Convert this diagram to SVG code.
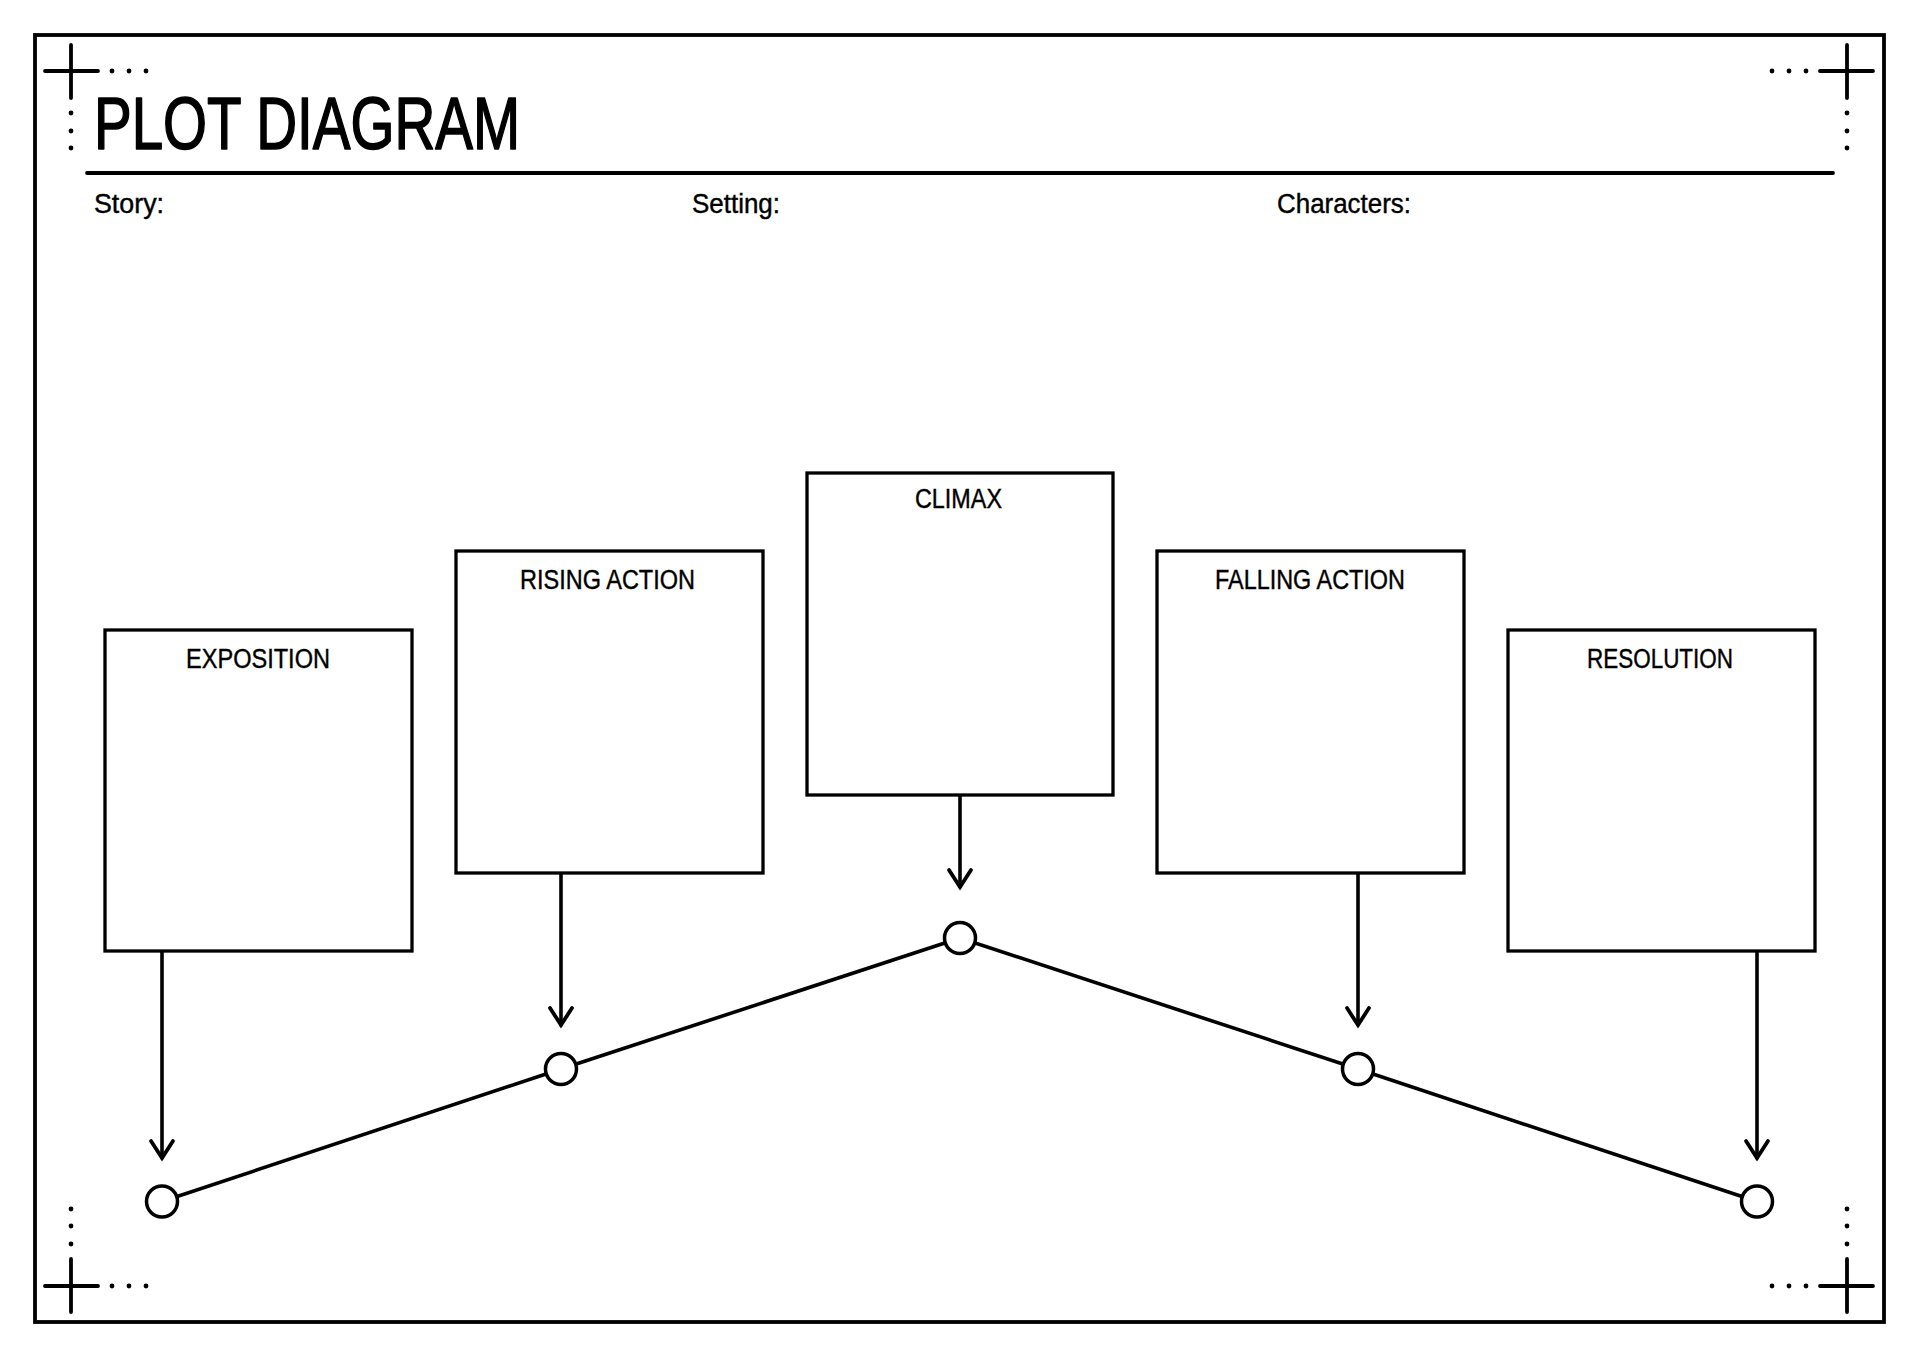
<svg xmlns="http://www.w3.org/2000/svg" xmlns:xlink="http://www.w3.org/1999/xlink" width="1920" height="1358" viewBox="0 0 1920 1358">
<style>
.ln{fill:none;stroke:#000;stroke-width:3.6;stroke-linecap:round;stroke-linejoin:round}
.box{fill:#fff;stroke:#000;stroke-width:3.3}
.pt{fill:#fff;stroke:#000;stroke-width:3.5}
.lbl{font-family:"Liberation Sans","DejaVu Sans",sans-serif;font-size:27px;fill:#000;stroke:#000;stroke-width:0.4}
.title{font-family:"Liberation Sans","DejaVu Sans",sans-serif;font-size:75px;fill:#000;stroke:#000;stroke-width:1.6;stroke-linejoin:round}
.dot{fill:#000}
</style>
<defs>
<marker id="ah" markerUnits="userSpaceOnUse" markerWidth="40" markerHeight="40" refX="0" refY="0" orient="auto" overflow="visible">
<path d="M-17,-11 L0,0 L-17,11" fill="none" stroke="#000" stroke-width="3.8" stroke-linecap="round" stroke-linejoin="miter"/>
</marker>
<g id="corner">
<path class="ln" d="M45,71 H98 M71,45 V98" style="stroke-width:3.8"/>
<circle class="dot" cx="112" cy="71" r="2.4"/>
<circle class="dot" cx="129" cy="71" r="2.4"/>
<circle class="dot" cx="146" cy="71" r="2.4"/>
<circle class="dot" cx="71" cy="113" r="2.4"/>
<circle class="dot" cx="71" cy="131" r="2.4"/>
<circle class="dot" cx="71" cy="148" r="2.4"/>
</g>
</defs>
<rect width="1920" height="1358" fill="#fff"/>
<g id="frame">
<rect x="35" y="35" width="1849" height="1287" fill="none" stroke="#000" stroke-width="3.8"/>
<use xlink:href="#corner"/>
<use xlink:href="#corner" transform="translate(1918,0) scale(-1,1)"/>
<use xlink:href="#corner" transform="translate(0,1357) scale(1,-1)"/>
<use xlink:href="#corner" transform="translate(1918,1357) scale(-1,-1)"/>
</g>
<g id="header">
<text class="title" x="94" y="149" textLength="426" lengthAdjust="spacingAndGlyphs">PLOT DIAGRAM</text>
<line class="ln" x1="87" y1="173" x2="1833" y2="173" style="stroke-width:3.8"/>
<text class="lbl" x="94" y="213" textLength="70" lengthAdjust="spacingAndGlyphs">Story:</text>
<text class="lbl" x="692" y="213" textLength="88" lengthAdjust="spacingAndGlyphs">Setting:</text>
<text class="lbl" x="1277" y="213" textLength="134" lengthAdjust="spacingAndGlyphs">Characters:</text>
</g>
<g id="connectors">
<polyline class="ln" points="162,1201.5 561,1069 960,938 1358,1069 1757,1201.5"/>
<line class="ln" x1="162" y1="951" x2="162" y2="1158" marker-end="url(#ah)"/>
<line class="ln" x1="561" y1="873" x2="561" y2="1025" marker-end="url(#ah)"/>
<line class="ln" x1="960" y1="795" x2="960" y2="887" marker-end="url(#ah)"/>
<line class="ln" x1="1358" y1="873" x2="1358" y2="1025" marker-end="url(#ah)"/>
<line class="ln" x1="1757" y1="951" x2="1757" y2="1158" marker-end="url(#ah)"/>
</g>
<g id="exposition">
<rect class="box" x="105" y="630" width="307" height="321"/>
<text class="lbl" x="186" y="668" textLength="144" lengthAdjust="spacingAndGlyphs">EXPOSITION</text>
<circle class="pt" cx="162" cy="1201.5" r="15.5"/>
</g>
<g id="rising-action">
<rect class="box" x="456" y="551" width="307" height="322"/>
<text class="lbl" x="520" y="589" textLength="175" lengthAdjust="spacingAndGlyphs">RISING ACTION</text>
<circle class="pt" cx="561" cy="1069" r="15.5"/>
</g>
<g id="climax">
<rect class="box" x="807" y="473" width="306" height="322"/>
<text class="lbl" x="915" y="508" textLength="87" lengthAdjust="spacingAndGlyphs">CLIMAX</text>
<circle class="pt" cx="960" cy="938" r="15.5"/>
</g>
<g id="falling-action">
<rect class="box" x="1157" y="551" width="307" height="322"/>
<text class="lbl" x="1215" y="589" textLength="190" lengthAdjust="spacingAndGlyphs">FALLING ACTION</text>
<circle class="pt" cx="1358" cy="1069" r="15.5"/>
</g>
<g id="resolution">
<rect class="box" x="1508" y="630" width="307" height="321"/>
<text class="lbl" x="1587" y="668" textLength="146" lengthAdjust="spacingAndGlyphs">RESOLUTION</text>
<circle class="pt" cx="1757" cy="1201.5" r="15.5"/>
</g>
</svg>
